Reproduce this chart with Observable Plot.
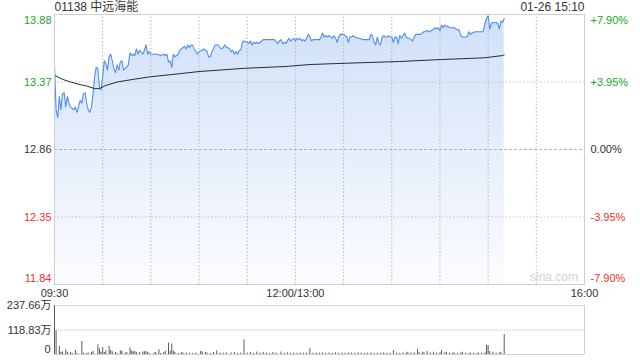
<!DOCTYPE html>
<html><head><meta charset="utf-8">
<script src="https://cdn.jsdelivr.net/npm/d3@7"></script>
<script src="https://cdn.jsdelivr.net/npm/@observablehq/plot@0.6"></script>
<style>
body{margin:0;background:#fff;}
#wrap{position:relative;width:640px;height:360px;overflow:hidden;}
#main{position:absolute;left:0;top:0;}
#vol{position:absolute;left:0;top:300px;}
svg{background:transparent !important;overflow:visible;}
</style></head><body><div id="wrap"><div id="main"></div><div id="vol"></div></div>
<script>
// ---- data (minutes after 09:30 on the trading clock, lunch removed) ----
const title = "01138 中远海能";
const stamp = "01-26 15:10";
const preClose = 12.86;
const priceTicks = [13.88, 13.37, 12.86, 12.35, 11.84];
const pctTicks = ["+7.90%", "+3.95%", "0.00%", "-3.95%", "-7.90%"];
const timeLabels = ["09:30", "12:00/13:00", "16:00"];
const timeLabelMinutes = [0, 150, 330];
const gridMinutes = [30, 60, 90, 120, 150, 180, 210, 240, 270, 300];
const volTicks = [237.66, 118.83, 0];
const volTickLabels = ["237.66万", "118.83万", "0"];

const priceMin = [0,1,2,3,4,5,6,7,8,9,10,12,13,14,16,17,18,19,20,21,22,23,24,25,26,27,28,29,30,31,32,33,34,35,36,37,38,39,40,41,42,43,44,46,47,48,49,50,51,52,53,55,56,57,58,59,60,62,64,66,68,69,70,71,72,73,74,75,76,77,78,79,80,81,82,83,84,85,86,87,88,89,90,92,93,94,95,96,97,98,99,100,101,102,103,104,105,106,107,108,109,110,111,112,113,114,115,116,117,118,120,121,122,123,124,125,126,127,128,129,130,137,139,140,141,142,143,144,145,146,147,148,149,150,151,152,153,154,155,156,157,158,159,160,161,165,166,167,168,169,170,171,172,173,174,175,176,177,178,179,180,181,182,183,184,185,186,187,189,190,192,196,197,198,199,200,201,202,203,204,205,206,207,208,209,210,211,212,213,214,215,216,217,218,219,220,221,222,223,224,225,227,228,230,231,232,233,235,236,237,238,239,240,241,242,243,244,245,246,248,249,250,252,253,254,255,256,257,258,259,260,262,264,266,267,268,269,270,271,272,273,274,275,276,277,278,279,280];
const priceVal = [13.50,13.16,13.10,13.26,13.16,13.28,13.29,13.18,13.26,13.21,13.18,13.16,13.18,13.14,13.23,13.21,13.28,13.29,13.21,13.16,13.14,13.18,13.28,13.41,13.48,13.47,13.33,13.31,13.41,13.53,13.51,13.46,13.56,13.58,13.53,13.47,13.44,13.50,13.46,13.52,13.53,13.46,13.47,13.50,13.59,13.57,13.58,13.57,13.62,13.58,13.61,13.58,13.61,13.65,13.58,13.60,13.58,13.58,13.58,13.57,13.58,13.57,13.58,13.52,13.53,13.48,13.58,13.56,13.57,13.58,13.61,13.62,13.63,13.64,13.62,13.65,13.63,13.65,13.65,13.62,13.60,13.58,13.60,13.61,13.62,13.61,13.60,13.56,13.56,13.60,13.62,13.65,13.65,13.65,13.63,13.62,13.63,13.65,13.63,13.63,13.62,13.60,13.61,13.58,13.60,13.58,13.61,13.61,13.67,13.68,13.67,13.66,13.68,13.65,13.67,13.66,13.67,13.66,13.67,13.68,13.69,13.69,13.66,13.68,13.69,13.66,13.67,13.66,13.68,13.70,13.68,13.69,13.70,13.68,13.70,13.69,13.70,13.68,13.69,13.68,13.70,13.73,13.71,13.68,13.69,13.69,13.71,13.74,13.71,13.72,13.71,13.72,13.71,13.70,13.72,13.70,13.67,13.71,13.73,13.73,13.73,13.72,13.71,13.67,13.71,13.71,13.72,13.71,13.70,13.70,13.69,13.69,13.73,13.72,13.67,13.65,13.71,13.66,13.65,13.71,13.72,13.71,13.71,13.72,13.71,13.71,13.67,13.71,13.71,13.66,13.72,13.70,13.72,13.74,13.71,13.70,13.70,13.69,13.68,13.71,13.73,13.73,13.73,13.75,13.75,13.76,13.75,13.76,13.77,13.78,13.77,13.78,13.76,13.80,13.78,13.80,13.79,13.79,13.78,13.78,13.78,13.77,13.76,13.72,13.71,13.71,13.71,13.71,13.75,13.73,13.74,13.75,13.75,13.75,13.75,13.81,13.85,13.87,13.77,13.81,13.82,13.82,13.82,13.81,13.77,13.83,13.82,13.85];

const avgMin = [0,5,10,16,20,25,28,31,39,49,60,72,90,119,144,159,182,215,241,268,279,280];
const avgVal = [13.42,13.39,13.37,13.35,13.34,13.32,13.32,13.34,13.37,13.39,13.41,13.425,13.449,13.474,13.487,13.502,13.512,13.525,13.54,13.553,13.57,13.575];

const volMin = [0,1,3,4,5,7,8,10,11,13,14,17,18,20,21,23,24,27,28,29,30,31,32,34,35,36,38,39,41,42,44,45,47,48,49,50,51,53,55,56,57,58,59,62,63,65,66,68,69,71,72,73,74,75,77,79,80,82,84,86,88,91,92,94,95,97,99,101,103,105,107,110,112,114,116,118,120,122,124,126,128,130,132,134,136,138,141,143,145,147,149,151,153,155,157,159,161,163,165,167,169,171,173,175,177,179,181,183,185,187,189,191,193,195,197,199,201,203,205,207,209,211,213,215,217,219,220,222,224,226,227,229,230,232,234,236,238,240,241,243,244,246,248,249,251,253,254,256,258,259,261,263,264,266,268,269,270,271,273,275,277,278,280];
const volVal = [237.66,115,39,11,12,23,11,9,5,20,5,63,7,5,7,10,15,47,27,12,34,10,17,39,20,13,10,5,17,15,7,10,31,17,13,15,10,10,12,13,15,10,5,7,10,23,5,10,15,55,15,51,17,10,5,10,7,8,7,5,7,15,12,10,7,5,10,17,7,7,8,7,10,5,7,71,7,10,5,12,7,10,7,5,10,7,12,6,8,6,7,6,8,6,7,30,6,7,6,8,6,7,6,8,6,7,6,8,7,6,8,7,6,7,8,6,7,6,8,7,6,19,7,6,8,7,11,7,8,24,10,11,8,15,8,11,7,9,19,8,11,7,8,6,7,8,11,7,6,6,7,6,6,7,8,44,44,14,11,7,8,11,97];

// ---- build tables ----
const price = priceMin.map((m, i) => ({m, p: priceVal[i]}));
const avg = avgMin.map((m, i) => ({m, p: avgVal[i]}));
const vol = volMin.map((m, i) => ({m, v: volVal[i]}));
const yTicks = priceTicks.map((p, i) => ({p, pct: pctTicks[i], i}));
const green = "#22a622", red = "#f03030", dark = "#333";
const tickColor = d => d.p > preClose ? green : d.p < preClose ? red : dark;
const font = {fontFamily: "Arial, 'Liberation Sans', 'Noto Sans CJK SC', sans-serif", fontSize: "11px"};

const topT = yTicks.filter(d => d.i === 0), midT = yTicks.filter(d => d.i > 0 && d.i < 4), botT = yTicks.filter(d => d.i === 4);
const leftText = (data, dy) => Plot.text(data, {x: 0, y: "p", text: d => d.p.toFixed(2), textAnchor: "end", dx: -3, dy, fill: tickColor, fontSize: 11});
const rightText = (data, dy) => Plot.text(data, {x: 330, y: "p", text: "pct", textAnchor: "start", dx: 6, dy, fill: tickColor, fontSize: 11});

const main = Plot.plot({
  width: 640, height: 300,
  marginLeft: 54, marginRight: 56, marginTop: 14, marginBottom: 16,
  style: font,
  x: {domain: [0, 330], axis: null},
  y: {domain: [11.84, 13.88], axis: null},
  marks: [
    Plot.areaY(price, {x: "m", y1: 11.84, y2: "p", fill: "url(#pgrad)"}),
    Plot.ruleY([13.37, 12.35], {stroke: "#c4c4c4", strokeDasharray: "1.5,2"}),
    Plot.ruleY([preClose], {stroke: "#b4b4b4", strokeDasharray: "3,2"}),
    Plot.ruleX(gridMinutes, {y1: 11.84, y2: 13.88, stroke: "#b8b8b8", strokeWidth: 1, strokeDasharray: "1.5,2"}),
    Plot.line(price, {x: "m", y: "p", stroke: "#4f8ff0", strokeWidth: 1.1}),
    Plot.line(avg, {x: "m", y: "p", stroke: "#2b2b2b", strokeWidth: 1}),
    Plot.frame({stroke: "#cfcfcf"}),
    leftText(topT, 6), leftText(midT, 0), leftText(botT, -6),
    rightText(topT, 6), rightText(midT, 0), rightText(botT, -6),
    Plot.text(timeLabels.map((t, i) => ({t, m: timeLabelMinutes[i], i})), {
      x: "m", y: 11.84, dy: 9, text: "t", fill: dark, fontSize: 11,
      textAnchor: d => d.i === 0 ? "start" : d.i === 2 ? "end" : "middle"
    }),
    Plot.text([title], {x: 0, y: 13.88, dy: -7, text: d => d, textAnchor: "start", fill: dark, fontSize: 12}),
    Plot.text([stamp], {x: 330, y: 13.88, dy: -7, text: d => d, textAnchor: "end", fill: dark, fontSize: 12}),
    Plot.text(["sina.com"], {x: 311, y: 11.84, dy: -7, text: d => d, fill: "#d2d2d2", fontSize: 12})
  ]
});
const defs = `<defs><linearGradient id="pgrad" gradientUnits="userSpaceOnUse" x1="0" y1="14" x2="0" y2="284">
<stop offset="0" stop-color="#d0e0f9"/><stop offset="0.5" stop-color="#e6eefb"/><stop offset="1" stop-color="#fbfcff"/></linearGradient></defs>`;
main.insertAdjacentHTML("afterbegin", defs);
document.getElementById("main").appendChild(main);

const vt = volTicks.map((v, i) => ({v, t: volTickLabels[i], i}));
const volume = Plot.plot({
  width: 640, height: 60,
  marginLeft: 54, marginRight: 56, marginTop: 5, marginBottom: 6,
  style: font,
  x: {domain: [0, 330], axis: null},
  y: {domain: [0, 237.66], axis: null},
  marks: [
    Plot.ruleY([237.66, 118.83], {stroke: "#bdbdbd", strokeDasharray: "1,1"}),
    Plot.ruleY([0], {stroke: "#cfcfcf"}),
    Plot.ruleX([0, 330], {stroke: "#cfcfcf"}),
    Plot.ruleX(vol, {x: "m", y1: 0, y2: "v", stroke: "#5a5a5a", strokeWidth: 1}),
    Plot.text(vt.filter(d => d.i < 2), {x: 0, y: "v", text: "t", textAnchor: "end", dx: -3, fill: dark, fontSize: 11}),
    Plot.text(vt.filter(d => d.i === 2), {x: 0, y: "v", text: "t", textAnchor: "end", dx: -4, dy: -5, fill: dark, fontSize: 11})
  ]
});
document.getElementById("vol").appendChild(volume);
</script></body></html>
